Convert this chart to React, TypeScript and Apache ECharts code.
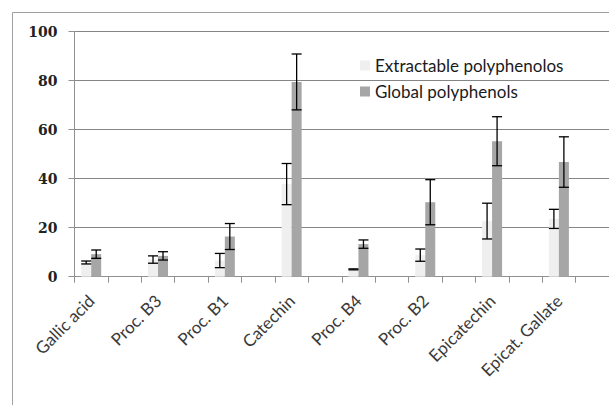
import React, { useEffect, useRef } from "react";
import * as echarts from "echarts";

const categories = [
  "Gallic acid",
  "Proc. B3",
  "Proc. B1",
  "Catechin",
  "Proc. B4",
  "Proc. B2",
  "Epicatechin",
  "Epicat. Gallate",
];
const extractable = [5.8, 7.0, 6.6, 37.8, 3.0, 8.8, 22.7, 23.6];
const extractableErr = [0.6, 1.5, 2.9, 8.4, 0.2, 2.5, 7.3, 3.9];
const globalVals = [9.2, 8.5, 16.4, 79.5, 13.3, 30.4, 55.3, 46.8];
const globalErr = [1.7, 1.7, 5.3, 11.4, 1.7, 9.2, 10.0, 10.3];
const yTicks = [0, 20, 40, 60, 80, 100];
const seriesNames = ["Extractable polyphenolos", "Global polyphenols"];

const LIGHT = "#efefef";
const DARK = "#a6a6a6";

// 16 slots: each compound followed by an empty spacer slot
const slots = categories.flatMap((c) => [c, ""]);
const toSlots = (arr: number[]) => arr.flatMap((v) => [v, null]);
const errData = (vals: number[], errs: number[]) =>
  vals.map((v, i) => [i * 2, v - errs[i], v + errs[i]]);

const makeErr = (offset: number) => (params: any, api: any) => {
  const x = api.value(0);
  const lo = api.coord([x, api.value(1)]);
  const hi = api.coord([x, api.value(2)]);
  const cx = lo[0] + offset;
  const style = { stroke: "#000", lineWidth: 1.3 };
  return {
    type: "group",
    children: [
      { type: "line", shape: { x1: cx, y1: hi[1], x2: cx, y2: lo[1] }, style },
      { type: "line", shape: { x1: cx - 5, y1: hi[1], x2: cx + 5, y2: hi[1] }, style },
      { type: "line", shape: { x1: cx - 5, y1: lo[1], x2: cx + 5, y2: lo[1] }, style },
    ],
  };
};

export default function App() {
  const ref = useRef<HTMLDivElement>(null);
  useEffect(() => {
    document.body.style.margin = "0";
    document.body.style.overflow = "hidden";
    const chart = echarts.init(ref.current!, null, { renderer: "svg" });
    chart.setOption({
      animation: false,
      backgroundColor: "#fff",
      graphic: [
        {
          type: "rect",
          shape: { x: 12.5, y: 12.5, width: 700, height: 500 },
          style: { fill: "none", stroke: "#a0a0a0", lineWidth: 1 },
          silent: true,
        },
      ],
      grid: { left: 74.5, right: -5, top: 31.7, bottom: 128.3, containLabel: false },
      legend: {
        orient: "vertical",
        left: 355,
        top: 52,
        itemWidth: 10,
        itemHeight: 10,
        itemGap: 9,
        icon: "rect",
        data: seriesNames,
        textStyle: { fontFamily: "Lato", fontSize: 17, color: "#1a1a1a", lineHeight: 17 },
      },
      xAxis: {
        type: "category",
        data: slots,
        axisLine: { lineStyle: { color: "#909090", width: 1 } },
        axisTick: { show: true, length: 6, lineStyle: { color: "#909090" }, interval: 0 },
        axisLabel: {
          interval: 0,
          rotate: 45,
          margin: 21,
          fontFamily: "Lato",
          fontSize: 17,
          color: "#3a3a3a",
        },
      },
      yAxis: {
        type: "value",
        min: 0,
        max: 100,
        interval: 20,
        axisLine: { show: true, lineStyle: { color: "#909090", width: 1 } },
        axisTick: { show: true, length: 6, lineStyle: { color: "#909090" } },
        splitLine: { lineStyle: { color: "#858585", width: 1 } },
        axisLabel: {
          margin: 17,
          fontFamily: "DejaVu Serif",
          fontWeight: "bold",
          fontSize: 14,
          color: "#222",
          formatter: (v: number) => (yTicks.includes(v) ? String(v) : ""),
        },
      },
      series: [
        {
          name: seriesNames[0],
          type: "bar",
          data: toSlots(extractable),
          barWidth: 10,
          barGap: "0%",
          itemStyle: { color: LIGHT },
        },
        {
          name: seriesNames[1],
          type: "bar",
          data: toSlots(globalVals),
          barWidth: 10,
          barGap: "0%",
          itemStyle: { color: DARK },
        },
        {
          type: "custom",
          renderItem: makeErr(-5),
          data: errData(extractable, extractableErr),
          z: 10,
          silent: true,
        },
        {
          type: "custom",
          renderItem: makeErr(5),
          data: errData(globalVals, globalErr),
          z: 10,
          silent: true,
        },
      ],
    });
    return () => chart.dispose();
  }, []);
  return <div ref={ref} style={{ width: 609, height: 405 }} />;
}
